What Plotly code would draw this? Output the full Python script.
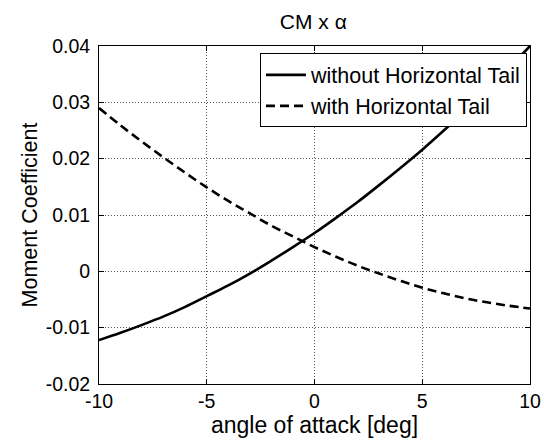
import plotly.graph_objects as go

# angle of attack [deg]
alpha = [-10, -9, -8, -7, -6, -5, -4, -3, -2, -1, 0, 1, 2, 3, 4, 5, 6, 7, 8, 9, 10]

# moment coefficient, aircraft without horizontal tail
cm_no_tail = [-0.0122, -0.0109, -0.0095, -0.0080, -0.0063, -0.0044, -0.0025, -0.0004,
              0.0019, 0.0043, 0.0068, 0.0095, 0.0123, 0.0153, 0.0184, 0.0216,
              0.0250, 0.0285, 0.0322, 0.0360, 0.0400]

# moment coefficient, aircraft with horizontal tail
cm_tail = [0.0290, 0.0259, 0.0230, 0.0202, 0.0175, 0.0149, 0.0125, 0.0103,
           0.0081, 0.0062, 0.0043, 0.0026, 0.0010, -0.0004, -0.0017, -0.0029,
           -0.0039, -0.0048, -0.0055, -0.0061, -0.0066]

x_ticks = [-10, -5, 0, 5, 10]
y_ticks = [-0.02, -0.01, 0, 0.01, 0.02, 0.03, 0.04]
y_tick_text = ["-0.02", "-0.01", "0", "0.01", "0.02", "0.03", "0.04"]

FONT = "Liberation Sans, Arial, sans-serif"

fig = go.Figure()
fig.add_trace(go.Scatter(
    x=alpha, y=cm_no_tail, mode="lines", name="without Horizontal Tail",
    line=dict(color="black", width=2.6, shape="spline"),
))
fig.add_trace(go.Scatter(
    x=alpha, y=cm_tail, mode="lines", name="with Horizontal Tail",
    line=dict(color="black", width=2.6, dash="9px,5px", shape="spline"),
))

axis_common = dict(
    showline=True, linecolor="black", linewidth=1, mirror="ticks",
    ticks="inside", ticklen=5, tickcolor="black",
    showgrid=True, gridcolor="#555555", gridwidth=1, griddash="1px,2px",
    zeroline=False, automargin=False,
    tickfont=dict(family=FONT, size=19.5, color="black"),
)

fig.update_layout(
    width=544, height=441,
    margin=dict(l=99, r=14, t=46, b=57),
    paper_bgcolor="white", plot_bgcolor="white",
    font=dict(family=FONT, color="black"),
    title=dict(text="CM x \u03b1", x=0.576, xanchor="center", y=0.952, yanchor="middle",
               font=dict(family=FONT, size=21, color="black")),
    xaxis=dict(range=[-10, 10], tickvals=x_ticks, ticktext=[str(v) for v in x_ticks],
               title=dict(text="angle of attack [deg]", standoff=2,
                          font=dict(family=FONT, size=23, color="black")),
               **axis_common),
    yaxis=dict(range=[-0.02, 0.04], tickvals=y_ticks, ticktext=y_tick_text,
               ticklabelstandoff=4,
               title=dict(text="Moment Coefficient", standoff=2,
                          font=dict(family=FONT, size=21.5, color="black")),
               **axis_common),
    legend=dict(x=0.993, y=0.978, xanchor="right", yanchor="top",
                bgcolor="white", bordercolor="black", borderwidth=1,
                font=dict(family=FONT, size=21.5, color="black"),
                itemwidth=40, tracegroupgap=0),
    showlegend=True,
)

fig.write_html("out.html")
